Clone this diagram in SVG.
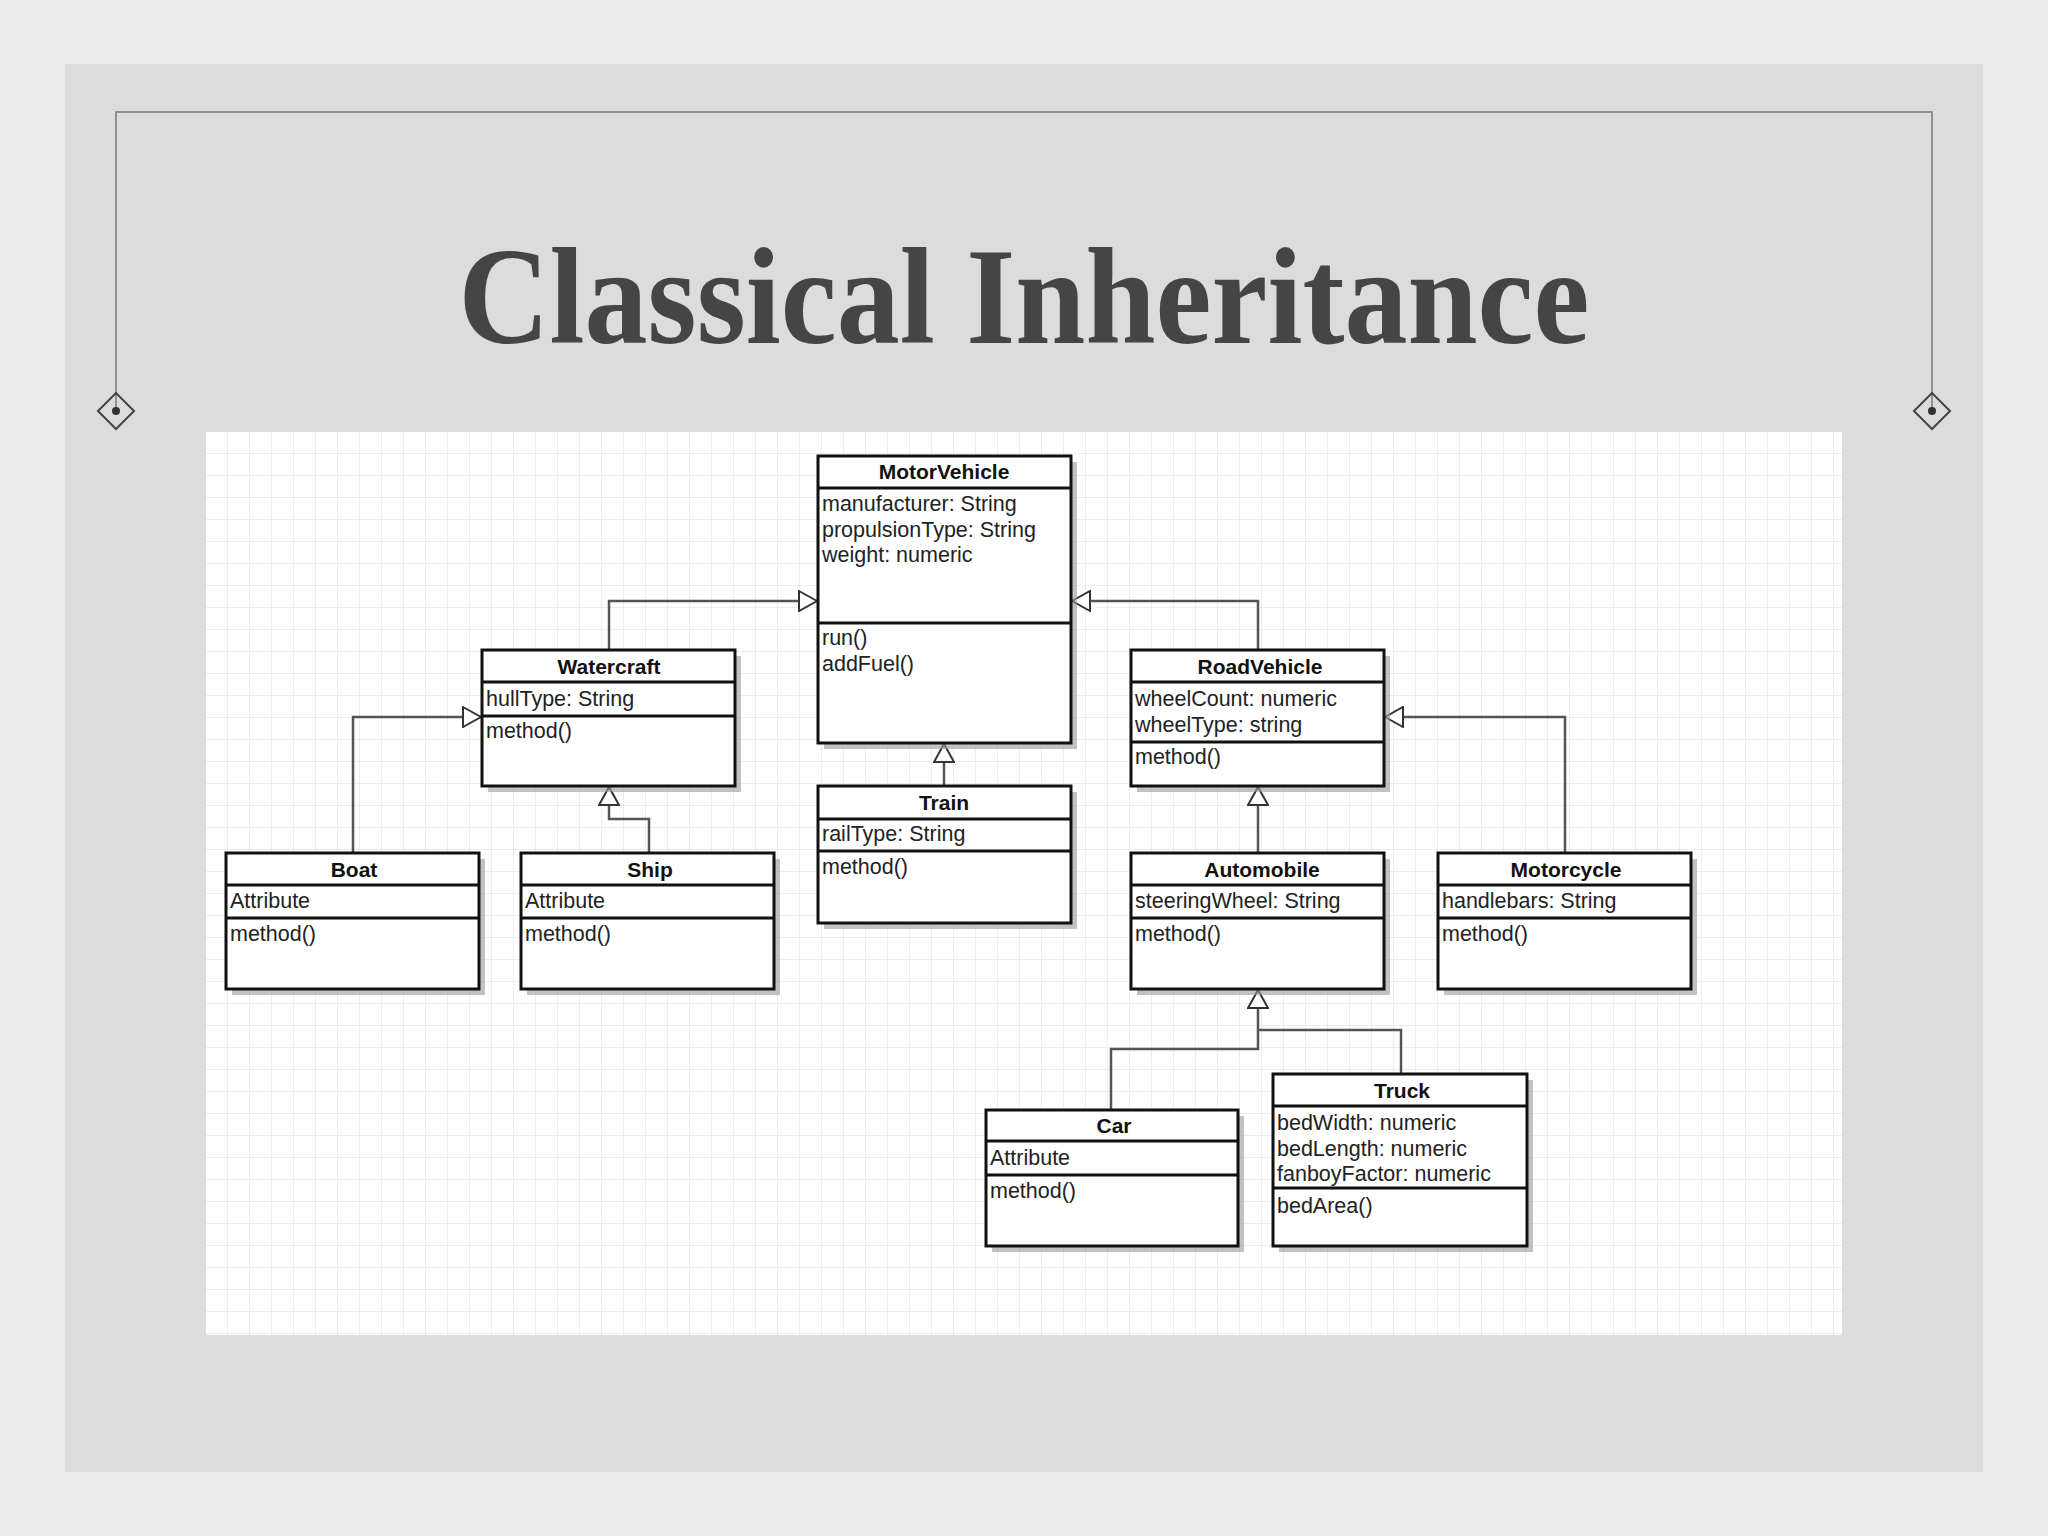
<svg xmlns="http://www.w3.org/2000/svg" width="2048" height="1536" viewBox="0 0 2048 1536">
<defs>
<pattern id="grid" x="206" y="432" width="22" height="22" patternUnits="userSpaceOnUse">
<path d="M22 0V22H0" fill="none" stroke="#d9dcec" stroke-width="1"/>
</pattern>
<marker id="tri" viewBox="0 0 20 22" refX="20" refY="11" markerWidth="20" markerHeight="22" markerUnits="userSpaceOnUse" orient="auto">
<path d="M1 1L19 11L1 21Z" fill="#fff" stroke="#333" stroke-width="2"/>
</marker>
</defs>
<style>
.box{fill:#fff;stroke:#111;stroke-width:3}
.sh{fill:#999;opacity:.6}
.div{stroke:#111;stroke-width:3}
.h{font-family:"Liberation Sans",Arial,sans-serif;font-weight:bold;font-size:21px;fill:#111;text-anchor:middle}
.t{font-family:"Liberation Sans",Arial,sans-serif;font-size:21.5px;fill:#222}
.c{fill:none;stroke:#555;stroke-width:2.5}
</style>
<rect width="2048" height="1536" fill="#ececec"/>
<rect x="65" y="64" width="1918" height="1408" fill="#dcdcdc"/>
<path d="M116 411V112H1932V411" fill="none" stroke="#777" stroke-width="1.5"/>
<g fill="none" stroke="#444" stroke-width="2">
<path d="M116 393L134 411L116 429L98 411Z"/><path d="M1932 393L1950 411L1932 429L1914 411Z"/>
</g>
<circle cx="116" cy="411" r="4" fill="#333"/><circle cx="1932" cy="411" r="4" fill="#333"/>
<text x="1024" y="343" text-anchor="middle" font-family="Liberation Serif,'Times New Roman',serif" font-weight="bold" font-size="138" fill="#454545" textLength="1131" lengthAdjust="spacingAndGlyphs">Classical Inheritance</text>
<rect x="206" y="432" width="1636" height="903" fill="#fff"/>
<rect x="206" y="432" width="1636" height="903" fill="url(#grid)"/>

<g id="connectors">
<path class="c" d="M609 650V601H818" marker-end="url(#tri)"/>
<path class="c" d="M1258 650V601H1071" marker-end="url(#tri)"/>
<path class="c" d="M944 786V743" marker-end="url(#tri)"/>
<path class="c" d="M353 853V717H482" marker-end="url(#tri)"/>
<path class="c" d="M649 853V819H609V786" marker-end="url(#tri)"/>
<path class="c" d="M1565 853V717H1384" marker-end="url(#tri)"/>
<path class="c" d="M1258 853V786" marker-end="url(#tri)"/>
<path class="c" d="M1111 1110V1049H1258V989" marker-end="url(#tri)"/>
<path class="c" d="M1401 1074V1030H1258"/>
</g>

<g id="MotorVehicle">
<rect class="sh" x="824" y="462" width="253" height="287"/>
<rect class="box" x="818" y="456" width="253" height="287"/>
<line class="div" x1="818" y1="488" x2="1071" y2="488"/><line class="div" x1="818" y1="623" x2="1071" y2="623"/>
<text class="h" x="944" y="479">MotorVehicle</text>
<text class="t" x="822" y="511">manufacturer: String</text>
<text class="t" x="822" y="537">propulsionType: String</text>
<text class="t" x="822" y="562">weight: numeric</text>
<text class="t" x="822" y="645">run()</text>
<text class="t" x="822" y="671">addFuel()</text>
</g>
<g id="Train">
<rect class="sh" x="824" y="792" width="253" height="137"/>
<rect class="box" x="818" y="786" width="253" height="137"/>
<line class="div" x1="818" y1="819" x2="1071" y2="819"/><line class="div" x1="818" y1="851" x2="1071" y2="851"/>
<text class="h" x="944" y="810">Train</text>
<text class="t" x="822" y="841">railType: String</text>
<text class="t" x="822" y="874">method()</text>
</g>
<g id="Watercraft">
<rect class="sh" x="488" y="656" width="253" height="136"/>
<rect class="box" x="482" y="650" width="253" height="136"/>
<line class="div" x1="482" y1="682" x2="735" y2="682"/><line class="div" x1="482" y1="716" x2="735" y2="716"/>
<text class="h" x="609" y="674">Watercraft</text>
<text class="t" x="486" y="706">hullType: String</text>
<text class="t" x="486" y="738">method()</text>
</g>
<g id="RoadVehicle">
<rect class="sh" x="1137" y="656" width="253" height="136"/>
<rect class="box" x="1131" y="650" width="253" height="136"/>
<line class="div" x1="1131" y1="682" x2="1384" y2="682"/><line class="div" x1="1131" y1="742" x2="1384" y2="742"/>
<text class="h" x="1260" y="674">RoadVehicle</text>
<text class="t" x="1135" y="706">wheelCount: numeric</text>
<text class="t" x="1135" y="732">wheelType: string</text>
<text class="t" x="1135" y="764">method()</text>
</g>
<g id="Boat">
<rect class="sh" x="232" y="859" width="253" height="136"/>
<rect class="box" x="226" y="853" width="253" height="136"/>
<line class="div" x1="226" y1="885" x2="479" y2="885"/><line class="div" x1="226" y1="918" x2="479" y2="918"/>
<text class="h" x="354" y="877">Boat</text>
<text class="t" x="230" y="908">Attribute</text>
<text class="t" x="230" y="941">method()</text>
</g>
<g id="Ship">
<rect class="sh" x="527" y="859" width="253" height="136"/>
<rect class="box" x="521" y="853" width="253" height="136"/>
<line class="div" x1="521" y1="885" x2="774" y2="885"/><line class="div" x1="521" y1="918" x2="774" y2="918"/>
<text class="h" x="650" y="877">Ship</text>
<text class="t" x="525" y="908">Attribute</text>
<text class="t" x="525" y="941">method()</text>
</g>
<g id="Automobile">
<rect class="sh" x="1137" y="859" width="253" height="136"/>
<rect class="box" x="1131" y="853" width="253" height="136"/>
<line class="div" x1="1131" y1="885" x2="1384" y2="885"/><line class="div" x1="1131" y1="918" x2="1384" y2="918"/>
<text class="h" x="1262" y="877">Automobile</text>
<text class="t" x="1135" y="908">steeringWheel: String</text>
<text class="t" x="1135" y="941">method()</text>
</g>
<g id="Motorcycle">
<rect class="sh" x="1444" y="859" width="253" height="136"/>
<rect class="box" x="1438" y="853" width="253" height="136"/>
<line class="div" x1="1438" y1="885" x2="1691" y2="885"/><line class="div" x1="1438" y1="918" x2="1691" y2="918"/>
<text class="h" x="1566" y="877">Motorcycle</text>
<text class="t" x="1442" y="908">handlebars: String</text>
<text class="t" x="1442" y="941">method()</text>
</g>
<g id="Car">
<rect class="sh" x="992" y="1116" width="252" height="136"/>
<rect class="box" x="986" y="1110" width="252" height="136"/>
<line class="div" x1="986" y1="1141" x2="1238" y2="1141"/><line class="div" x1="986" y1="1175" x2="1238" y2="1175"/>
<text class="h" x="1114" y="1133">Car</text>
<text class="t" x="990" y="1165">Attribute</text>
<text class="t" x="990" y="1198">method()</text>
</g>
<g id="Truck">
<rect class="sh" x="1279" y="1080" width="254" height="172"/>
<rect class="box" x="1273" y="1074" width="254" height="172"/>
<line class="div" x1="1273" y1="1106" x2="1527" y2="1106"/><line class="div" x1="1273" y1="1188" x2="1527" y2="1188"/>
<text class="h" x="1402" y="1098">Truck</text>
<text class="t" x="1277" y="1130">bedWidth: numeric</text>
<text class="t" x="1277" y="1156">bedLength: numeric</text>
<text class="t" x="1277" y="1181">fanboyFactor: numeric</text>
<text class="t" x="1277" y="1213">bedArea()</text>
</g>
</svg>
